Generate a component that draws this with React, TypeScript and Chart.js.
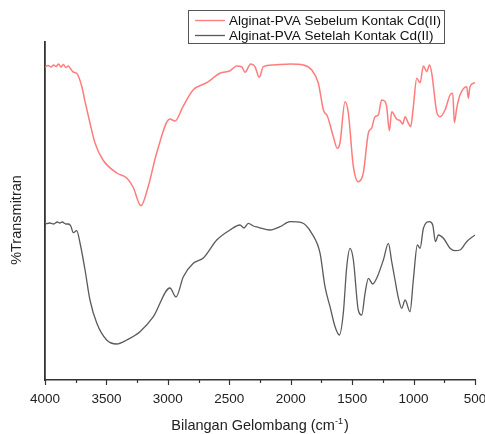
import React, { useEffect, useRef } from "react";
import { Chart, registerables } from "chart.js";

Chart.register(...registerables);

// Wavenumber (cm^-1) and transmittance (arbitrary units)
const sebelumWave = [4000, 3975, 3950, 3930, 3910, 3890, 3870, 3850, 3830, 3810, 3790, 3770, 3742, 3700, 3674, 3634, 3593, 3528, 3416, 3335, 3283, 3219, 3161, 3091, 2983, 2942, 2877, 2795, 2684, 2576, 2494, 2440, 2399, 2372, 2326, 2291, 2256, 2223, 2142, 2006, 1897, 1829, 1775, 1734, 1702, 1653, 1621, 1599, 1558, 1531, 1490, 1450, 1409, 1368, 1341, 1314, 1287, 1260, 1232, 1219, 1197, 1178, 1137, 1110, 1088, 1069, 1042, 1023, 1002, 974, 947, 920, 893, 871, 852, 812, 785, 744, 703, 681, 668, 649, 622, 568, 554, 541, 500];
const sebelumT = [313, 314.5, 313, 315, 313.5, 316, 313, 315.5, 312.5, 314, 311, 308, 306.7, 293.3, 278.3, 257, 237, 220, 207, 202, 193, 174.3, 193, 227, 261, 259, 273.3, 290, 297.3, 306.7, 309.3, 314, 313.3, 307.7, 316, 313.3, 302.7, 313.3, 315, 316, 315, 310, 296.7, 270, 264, 243.3, 231.7, 237, 278.3, 267, 213.3, 198.3, 207, 247, 252, 263.3, 265, 280, 278.3, 273.3, 249.3, 268.3, 260.7, 259.3, 256, 263.3, 256.7, 253.3, 273.3, 301.7, 297.3, 314, 308.3, 315, 306.7, 268.3, 263.3, 270, 285, 286.7, 257.3, 271.7, 285, 293.3, 281.7, 293.3, 297.3];

const setelahWave = [4000, 3960, 3930, 3900, 3880, 3860, 3830, 3810, 3790, 3770, 3742, 3715, 3674, 3634, 3579, 3498, 3416, 3335, 3227, 3118, 2983, 2934, 2874, 2793, 2711, 2602, 2494, 2413, 2380, 2345, 2304, 2264, 2168, 2087, 2006, 1911, 1829, 1761, 1721, 1680, 1639, 1604, 1572, 1544, 1517, 1490, 1450, 1422, 1395, 1368, 1333, 1295, 1246, 1205, 1178, 1151, 1123, 1096, 1069, 1029, 1002, 969, 947, 920, 871, 844, 822, 798, 757, 703, 663, 622, 568, 500];
const setelahT = [156, 157, 156, 158, 157, 158, 156, 156, 154, 147.3, 149.3, 137, 110, 80, 57, 40, 36, 40, 48.3, 63.3, 92, 83, 103.3, 116.7, 122, 140, 150, 155, 152, 156.7, 154, 152.7, 150, 153.3, 158.3, 157.3, 146.7, 126.7, 93.3, 73.3, 53.3, 45, 66.7, 113.3, 131.7, 120, 70, 65, 86.7, 101.7, 96, 103.3, 120, 136.7, 118.3, 100, 81.7, 71.7, 80, 68.3, 100, 135, 131.7, 151.7, 158.3, 155, 138.3, 145, 141.7, 131.7, 129.3, 130, 138.3, 145];

const seriesLabels = ["Alginat-PVA Sebelum Kontak Cd(II)", "Alginat-PVA Setelah Kontak Cd(II)"];
const seriesColors = ["rgba(255,110,110,0.9)", "#5a5a5a"];
const xTitle = "Bilangan Gelombang (cm";
const xTitleSup = "-1";
const yTitle = "%Transmitran";

const FONT = "'Liberation Sans', Arial, sans-serif";

const decor = {
  id: "decor",
  afterDraw(chart: any) {
    const ctx = chart.ctx;
    const xs = chart.scales.x;
    const area = chart.chartArea;
    ctx.save();
    // ticks (major and minor)
    ctx.strokeStyle = "#333";
    ctx.lineWidth = 1.2;
    for (let w = 500; w <= 4000; w += 250) {
      const px = Math.round(xs.getPixelForValue(w)) + 0.5;
      const len = w % 500 === 0 ? 5 : 3;
      ctx.beginPath();
      ctx.moveTo(px, area.bottom);
      ctx.lineTo(px, area.bottom + len);
      ctx.stroke();
    }
    // x title with superscript
    ctx.fillStyle = "#222";
    ctx.textBaseline = "alphabetic";
    ctx.textAlign = "left";
    const mainFont = `14.5px ${FONT}`;
    const supFont = `9px ${FONT}`;
    ctx.font = mainFont;
    const w1 = ctx.measureText(xTitle).width;
    const w3 = ctx.measureText(")").width;
    ctx.font = supFont;
    const w2 = ctx.measureText(xTitleSup).width;
    const total = w1 + w2 + w3 + 1;
    const x0 = (area.left + area.right) / 2 - total / 2;
    const by = 430;
    ctx.font = mainFont;
    ctx.fillText(xTitle, x0, by);
    ctx.font = supFont;
    ctx.fillText(xTitleSup, x0 + w1, by - 6);
    ctx.font = mainFont;
    ctx.fillText(")", x0 + w1 + w2 + 1, by);
    // y title
    ctx.save();
    ctx.translate(17, 220);
    ctx.rotate(-Math.PI / 2);
    ctx.textAlign = "center";
    ctx.textBaseline = "middle";
    ctx.font = `14.5px ${FONT}`;
    ctx.fillText(yTitle, 0, 0);
    ctx.restore();
    // legend box
    ctx.strokeStyle = "#555";
    ctx.lineWidth = 1;
    ctx.strokeRect(188.5, 10.5, 256, 33);
    ctx.font = `13.5px ${FONT}`;
    ctx.textAlign = "left";
    ctx.textBaseline = "middle";
    seriesLabels.forEach((lab, i) => {
      const y = 20 + i * 15;
      ctx.strokeStyle = seriesColors[i];
      ctx.lineWidth = 1.3;
      ctx.beginPath();
      ctx.moveTo(195, y + 0.5);
      ctx.lineTo(225, y + 0.5);
      ctx.stroke();
      ctx.fillStyle = "#111";
      ctx.fillText(lab, 229, y + 1);
    });
    ctx.restore();
  },
};

export default function App() {
  const ref = useRef<HTMLCanvasElement | null>(null);
  useEffect(() => {
    document.body.style.margin = "0";
    const canvas = ref.current;
    if (!canvas) return;
    const chart = new Chart(canvas, {
      type: "line",
      data: {
        datasets: [
          {
            label: seriesLabels[0],
            data: sebelumWave.map((w, i) => ({ x: w, y: sebelumT[i] })),
            borderColor: seriesColors[0],
            borderWidth: 1.5,
            pointRadius: 0,
            cubicInterpolationMode: "monotone",
            fill: false,
          },
          {
            label: seriesLabels[1],
            data: setelahWave.map((w, i) => ({ x: w, y: setelahT[i] })),
            borderColor: seriesColors[1],
            borderWidth: 1.3,
            pointRadius: 0,
            cubicInterpolationMode: "monotone",
            fill: false,
          },
        ],
      },
      options: {
        responsive: false,
        animation: false,
        layout: { padding: { top: 42, right: 10, left: 0, bottom: 0 } },
        plugins: { legend: { display: false }, tooltip: { enabled: false }, title: { display: false } },
        scales: {
          x: {
            type: "linear",
            reverse: true,
            min: 500,
            max: 4000,
            grid: { display: false, drawTicks: false },
            border: { display: true, color: "#333", width: 1.5 },
            ticks: {
              stepSize: 500,
              padding: 11,
              color: "#222",
              font: { family: FONT, size: 13.5 },
              maxRotation: 0,
              autoSkip: false,
              callback: (v: any) => String(v),
            },
            afterFit: (s: any) => {
              s.height = 54;
              s.paddingLeft = 0;
              s.paddingRight = 0;
            },
          },
          y: {
            min: 0,
            max: 338,
            grid: { display: false, drawTicks: false },
            border: { display: true, color: "#333", width: 1.8 },
            ticks: { display: false },
            afterFit: (s: any) => {
              s.width = 45;
            },
          },
        },
      },
      plugins: [decor],
    });
    return () => chart.destroy();
  }, []);
  return (
    <div style={{ width: 485, height: 434 }}>
      <canvas ref={ref} width={485} height={434} />
    </div>
  );
}
